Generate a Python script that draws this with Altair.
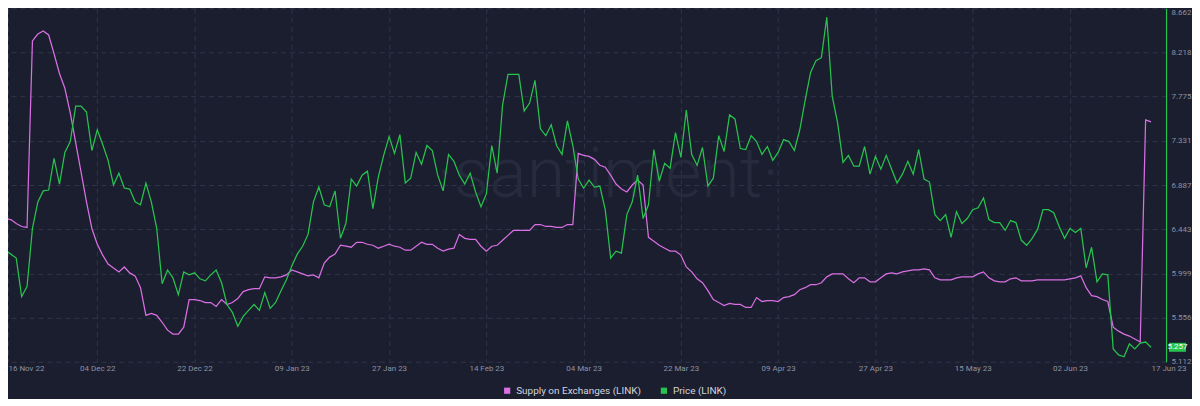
import json
import altair as alt
import pandas as pd

# ---------------- data ----------------
start_date = "2022-11-16"

price = [
    6.193, 6.232, 6.193, 6.153, 5.767, 5.866, 6.451, 6.718, 6.828, 6.837,
    7.155, 6.897, 7.214, 7.323, 7.680, 7.680, 7.621, 7.234, 7.442, 7.294,
    7.135, 6.887, 7.006, 6.857, 6.847, 6.718, 6.689, 6.907, 6.718, 6.451,
    5.896, 6.034, 5.955, 5.786, 6.015, 5.985, 6.005, 5.945, 5.925, 5.985,
    6.034, 5.905, 5.687, 5.608, 5.469, 5.568, 5.628, 5.687, 5.628, 5.806,
    5.648, 5.707, 5.826, 5.935, 6.074, 6.193, 6.272, 6.391, 6.718, 6.867,
    6.689, 6.669, 6.828, 6.352, 6.500, 6.947, 6.877, 6.986, 7.026, 6.649,
    6.966, 7.185, 7.373, 7.204, 7.393, 6.907, 6.956, 7.214, 7.095, 7.284,
    7.234, 6.986, 6.828, 7.194, 7.125, 6.986, 6.897, 7.006, 6.818, 6.669,
    6.798, 7.284, 7.006, 7.690, 7.998, 7.998, 7.998, 7.631, 7.710, 7.938,
    7.452, 7.383, 7.492, 7.284, 7.194, 7.532, 7.284, 6.947, 6.857, 6.937,
    6.867, 6.877, 6.639, 6.153, 6.223, 6.203, 6.590, 6.718, 6.986, 6.550,
    6.689, 7.244, 6.927, 7.105, 7.056, 7.413, 7.165, 7.641, 7.194, 7.085,
    7.264, 6.877, 6.956, 7.383, 7.224, 7.591, 7.551, 7.254, 7.244, 7.383,
    7.323, 7.194, 7.274, 7.135, 7.214, 7.343, 7.323, 7.234, 7.442, 7.740,
    8.018, 8.137, 8.166, 8.573, 7.780, 7.512, 7.115, 7.185, 7.076, 7.076,
    7.274, 6.996, 7.175, 7.046, 7.185, 7.046, 6.907, 6.996, 7.125, 6.996,
    7.244, 6.947, 6.917, 6.590, 6.530, 6.590, 6.362, 6.619, 6.500, 6.550,
    6.639, 6.659, 6.758, 6.540, 6.510, 6.510, 6.431, 6.530, 6.510, 6.332,
    6.282, 6.352, 6.441, 6.639, 6.639, 6.609, 6.471, 6.352, 6.451, 6.411,
    6.451, 6.054, 6.262, 5.915, 5.995, 5.985, 5.241, 5.181, 5.162, 5.291,
    5.241, 5.300, 5.310, 5.257,
]

supply = [
    139.80, 139.35, 139.30, 139.10, 138.95, 138.90, 148.35, 148.70, 148.85, 148.65,
    147.70, 146.70, 145.95, 144.70, 143.20, 141.70, 140.20, 138.85, 138.05, 137.50,
    137.05, 136.85, 136.65, 136.90, 136.60, 136.45, 135.85, 134.45, 134.55, 134.45,
    134.10, 133.70, 133.50, 133.50, 133.85, 135.25, 135.25, 135.20, 135.10, 135.10,
    134.90, 135.25, 135.00, 135.10, 135.30, 135.65, 135.75, 135.80, 135.80, 136.40,
    136.35, 136.35, 136.40, 136.50, 136.75, 136.65, 136.55, 136.45, 136.50, 136.35,
    137.10, 137.40, 137.55, 138.00, 137.95, 137.90, 138.15, 138.15, 138.05, 138.00,
    137.85, 137.95, 138.05, 137.95, 137.90, 137.75, 137.75, 137.95, 138.15, 138.05,
    138.05, 137.85, 137.70, 137.80, 137.85, 138.55, 138.35, 138.30, 138.30, 137.95,
    137.70, 137.95, 138.00, 138.25, 138.50, 138.75, 138.75, 138.75, 138.75, 139.05,
    139.05, 138.95, 138.95, 138.90, 138.90, 139.05, 139.05, 142.65, 142.55, 142.50,
    142.35, 142.05, 141.95, 141.55, 141.10, 140.85, 140.70, 141.05, 141.30, 141.05,
    138.40, 138.20, 138.00, 137.85, 137.70, 137.70, 137.50, 136.90, 136.65, 136.30,
    136.10, 135.70, 135.25, 135.10, 134.95, 135.05, 135.00, 135.00, 134.85, 134.85,
    135.35, 135.15, 135.20, 135.20, 135.15, 135.35, 135.40, 135.50, 135.75, 135.85,
    136.00, 136.00, 136.10, 136.40, 136.55, 136.55, 136.55, 136.30, 136.10, 136.35,
    136.35, 136.15, 136.15, 136.35, 136.55, 136.60, 136.55, 136.65, 136.70, 136.75,
    136.75, 136.80, 136.75, 136.35, 136.25, 136.25, 136.25, 136.35, 136.40, 136.40,
    136.40, 136.55, 136.65, 136.35, 136.20, 136.15, 136.15, 136.30, 136.35, 136.20,
    136.20, 136.20, 136.25, 136.25, 136.25, 136.25, 136.25, 136.25, 136.30, 136.35,
    136.45, 135.85, 135.45, 135.40, 135.25, 135.15, 133.85, 133.65, 133.50, 133.40,
    133.25, 133.10, 144.35, 144.25,
]

series_names = ["Supply on Exchanges (LINK)", "Price (LINK)"]
series_colors = ["#d96fe4", "#27c34e"]

x_domain = ["2022-11-17T11:28", "2023-06-19T18:43"]
tick_dates = ["2022-11-17T11:28", "2022-12-04", "2022-12-22", "2023-01-09", "2023-01-27",
              "2023-02-14", "2023-03-04", "2023-03-22", "2023-04-09", "2023-04-27",
              "2023-05-15", "2023-06-02", "2023-06-17"]
tick_labels = ["16 Nov 22", "04 Dec 22", "22 Dec 22", "09 Jan 23", "27 Jan 23",
               "14 Feb 23", "04 Mar 23", "22 Mar 23", "09 Apr 23", "27 Apr 23",
               "15 May 23", "02 Jun 23", "17 Jun 23"]
price_ticks = [5.112, 5.556, 5.999, 6.443, 6.887, 7.331, 7.775, 8.218, 8.662]
price_domain = [5.112, 8.662]
supply_domain = [132.1, 150.0]
watermark_text = "·santiment·"

# ---------------- styling ----------------
BG = "#1b1e2e"
GRID = "#30354a"
LABEL = "#8d92a3"
FONT = "Roboto"


def to_dt(s):
    t = pd.Timestamp(s)
    return alt.DateTime(year=t.year, month=t.month, date=t.day, hours=t.hour, minutes=t.minute)


df = pd.DataFrame({
    "date": pd.date_range(start_date, periods=len(price), freq="D"),
    "price": price,
    "supply": supply,
})

n_ticks = len(tick_labels)
label_expr = f"{json.dumps(tick_labels)}[round(datum.index * {n_ticks - 1})]"

x_axis = alt.Axis(
    values=[to_dt(d) for d in tick_dates],
    labelExpr=label_expr,
    labelAlign={"condition": {"test": "datum.index == 0 || datum.index == 1", "value": "left"},
                "value": "center"},
    gridOpacity={"condition": {"test": "datum.index == 1", "value": 0}, "value": 1},
    grid=True, gridColor=GRID, gridDash=[5, 4], gridWidth=1,
    domain=False, ticks=False, labelColor=LABEL, labelFontSize=8, labelFont=FONT,
    labelPadding=3, labelOverlap=False, title=None,
)
x_scale = alt.Scale(domain=[to_dt(d) for d in x_domain])
x_enc = alt.X("date:T", scale=x_scale, axis=x_axis)

color_enc = alt.Color(
    "series:N",
    scale=alt.Scale(domain=series_names, range=series_colors),
    legend=alt.Legend(
        orient="none", legendX=495, legendY=378, direction="horizontal", title=None,
        symbolType="square", symbolSize=9, symbolStrokeWidth=3.2,
        labelColor="#d2d5de", labelFontSize=10, labelFont=FONT, labelOffset=4,
        columnPadding=14, padding=0,
    ),
)

price_scale = alt.Scale(domain=price_domain, nice=False, zero=False)
price_axis = alt.Axis(
    orient="right", values=price_ticks, format=".3f", grid=True, gridColor=GRID,
    gridDash=[5, 4], gridWidth=1, domain=True, domainColor=series_colors[1], domainWidth=1.2,
    ticks=False, labelColor=LABEL, labelFontSize=8, labelFont=FONT, labelPadding=5,
    labelBaseline={"condition": {"test": "datum.value > 8.5", "value": "top"},
                   "value": "middle"},
    title=None,
)

watermark = alt.Chart(pd.DataFrame({"wm": [watermark_text]})).mark_text(
    font=FONT, fontWeight=300, fontSize=70, color="#252a3c",
    align="center", baseline="alphabetic",
).encode(text="wm:N", x=alt.value(601), y=alt.value(189))

supply_line = alt.Chart(df).transform_calculate(
    series=f"'{series_names[0]}'"
).mark_line(strokeWidth=1.25, clip=True).encode(
    x=x_enc,
    y=alt.Y("supply:Q", scale=alt.Scale(domain=supply_domain, nice=False, zero=False), axis=None),
    color=color_enc,
)

price_line = alt.Chart(df).transform_calculate(
    series=f"'{series_names[1]}'"
).mark_line(strokeWidth=1.25, clip=True).encode(
    x=x_enc,
    y=alt.Y("price:Q", scale=price_scale, axis=price_axis),
    color=color_enc,
)

badge_df = pd.DataFrame({"price": [price[-1]], "label": [f"{price[-1]:.3f}"]})
badge_rect = alt.Chart(badge_df).transform_calculate(
    top="datum.price + 0.045", bot="datum.price - 0.045"
).mark_rect(color=series_colors[1]).encode(
    x=alt.value(1163), x2=alt.value(1180),
    y=alt.Y("top:Q", scale=price_scale, axis=price_axis), y2="bot:Q",
)
badge_text = alt.Chart(badge_df).mark_text(
    color="#f2fff4", fontSize=8, font=FONT, align="center", baseline="middle"
).encode(
    x=alt.value(1171.5), y=alt.Y("price:Q", scale=price_scale, axis=price_axis), text="label:N"
)

price_group = alt.layer(price_line, badge_rect, badge_text)

chart = alt.layer(watermark, supply_line, price_group).resolve_scale(
    y="independent"
).properties(
    width=1160, height=354, background=BG,
    padding={"left": 0, "right": 0, "top": 0, "bottom": 0},
).configure_view(stroke=None)

chart.save("out.html", embed_options={"renderer": "svg", "actions": False})
